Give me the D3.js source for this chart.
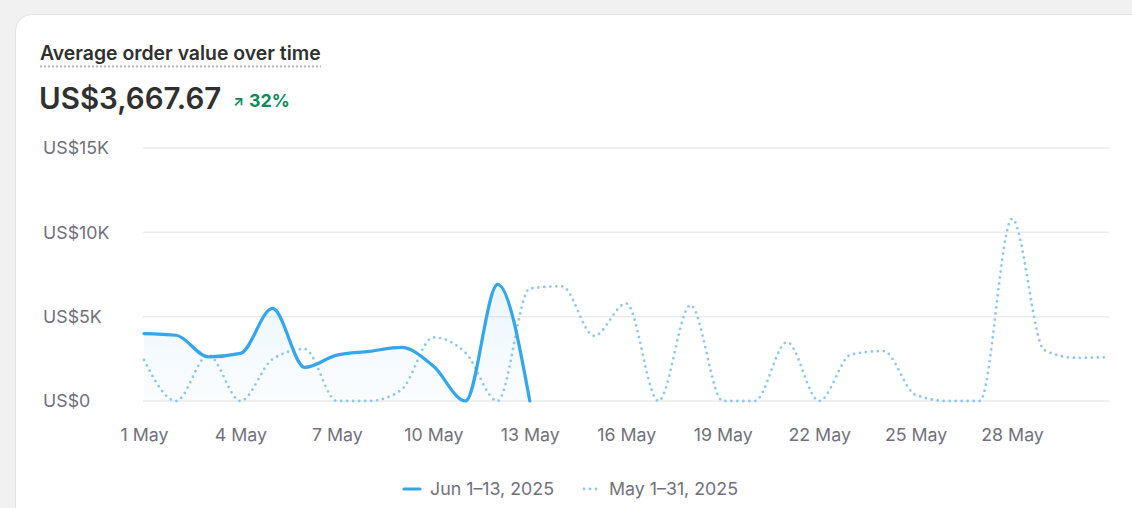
<!DOCTYPE html>
<html>
<head>
<meta charset="utf-8">
<script src="https://cdn.jsdelivr.net/npm/d3@7"></script>
<style>
  html, body { margin: 0; padding: 0; background: #f1f1f1; }
  body { width: 1132px; height: 508px; overflow: hidden; font-family: Inter, "Noto Sans", sans-serif; }
  #chart svg { display: block; }
</style>
</head>
<body>
<div id="chart"></div>
<script>
// Series values (US$ per day)
const juneValues = [4000, 3900, 2620, 2820, 5490, 1990, 2720, 2940, 3180, 2070, 0, 6920, 0];
const mayValues = [
  2430, 0, 2720, 0, 2480, 3080, 0, 0, 650, 3770,
  2860, 0, 6670, 6800, 3860, 5780, 0, 5680, 0, 0,
  3490, 0, 2760, 2960, 360, 0, 0, 10800, 3020, 2560,
  2600
];
const xTickDays = [1, 4, 7, 10, 13, 16, 19, 22, 25, 28];
const yTickValues = [0, 5000, 10000, 15000];
const yTickLabels = ['US$0', 'US$5K', 'US$10K', 'US$15K'];
const legendLabels = ['Jun 1\u201313, 2025', 'May 1\u201331, 2025'];

const W = 1132, H = 508;
const solidColor = '#35a6ea';
const dotColor = '#8ec8ec';
const textGrey = '#71717c';

const svg = d3.select('#chart').append('svg')
  .attr('width', W)
  .attr('height', H);

// Card
svg.append('rect')
  .attr('x', 15.5).attr('y', 14.5)
  .attr('width', 1140).attr('height', 520)
  .attr('rx', 16)
  .attr('fill', '#fff')
  .attr('stroke', '#e3e3e3');

// Header
svg.append('text')
  .attr('x', 40).attr('y', 60)
  .attr('font-size', 19.4).attr('font-weight', 600)
  .attr('fill', '#303030')
  .text('Average order value over time');

svg.append('line')
  .attr('x1', 40).attr('x2', 321)
  .attr('y1', 66.5).attr('y2', 66.5)
  .attr('stroke', '#b5b5b5')
  .attr('stroke-width', 2)
  .attr('stroke-dasharray', '2,2');

svg.append('text')
  .attr('x', 39).attr('y', 109)
  .attr('font-size', 29.5).attr('font-weight', 600)
  .attr('fill', '#303030')
  .text('US$3,667.67');

svg.append('text')
  .attr('x', 233).attr('y', 106)
  .attr('font-size', 14).attr('font-weight', 700)
  .attr('fill', '#0b8a5a')
  .text('\u2197');

svg.append('text')
  .attr('x', 249).attr('y', 106.5)
  .attr('font-size', 17.8).attr('font-weight', 700)
  .attr('fill', '#0b8a5a')
  .text('32%');

// Scales
const x = d3.scaleLinear().domain([1, 31]).range([144, 1108.5]);
const y = d3.scaleLinear().domain([0, 15000]).range([401, 148]);

// Grid
svg.append('g')
  .selectAll('line')
  .data(yTickValues)
  .join('line')
  .attr('x1', 143).attr('x2', 1109)
  .attr('y1', d => y(d)).attr('y2', d => y(d))
  .attr('stroke', '#ebebeb')
  .attr('stroke-width', 1.5);

// Y axis labels
const yAxis = d3.axisLeft(y)
  .tickValues(yTickValues)
  .tickFormat((d, i) => yTickLabels[i])
  .tickSize(0);

svg.append('g')
  .attr('transform', 'translate(43,0)')
  .call(yAxis)
  .call(g => g.select('.domain').remove())
  .call(g => g.selectAll('text')
    .attr('text-anchor', 'start')
    .attr('x', 0)
    .attr('dy', '0.32em')
    .attr('font-family', 'Inter, sans-serif')
    .attr('font-size', 17.8)
    .attr('fill', textGrey));

// X axis labels
const xAxis = d3.axisBottom(x)
  .tickValues(xTickDays)
  .tickFormat(d => `${d} May`)
  .tickSize(0);

svg.append('g')
  .attr('transform', 'translate(0,425)')
  .call(xAxis)
  .call(g => g.select('.domain').remove())
  .call(g => g.selectAll('text')
    .attr('font-family', 'Inter, sans-serif')
    .attr('font-size', 17.8)
    .attr('fill', textGrey));

// Gradient for the area under the current period
const defs = svg.append('defs');
const grad = defs.append('linearGradient')
  .attr('id', 'areaFill')
  .attr('x1', 0).attr('y1', 0).attr('x2', 0).attr('y2', 1);
grad.append('stop').attr('offset', '0%').attr('stop-color', solidColor).attr('stop-opacity', 0.1);
grad.append('stop').attr('offset', '100%').attr('stop-color', solidColor).attr('stop-opacity', 0.02);

const line = d3.line()
  .x((d, i) => x(i + 1))
  .y(d => y(d))
  .curve(d3.curveMonotoneX);

const area = d3.area()
  .x((d, i) => x(i + 1))
  .y0(y(0))
  .y1(d => y(d))
  .curve(d3.curveMonotoneX);

svg.append('path')
  .datum(juneValues)
  .attr('d', area)
  .attr('fill', 'url(#areaFill)');

// Previous period (dotted)
svg.append('path')
  .datum(mayValues)
  .attr('d', line)
  .attr('fill', 'none')
  .attr('stroke', dotColor)
  .attr('stroke-width', 2.8)
  .attr('stroke-linecap', 'round')
  .attr('stroke-dasharray', '0,6');

// Current period (solid)
svg.append('path')
  .datum(juneValues)
  .attr('d', line)
  .attr('fill', 'none')
  .attr('stroke', solidColor)
  .attr('stroke-width', 3.2)
  .attr('stroke-linecap', 'round');

// Legend
const legend = svg.append('g').attr('transform', 'translate(0,489)');

legend.append('line')
  .attr('x1', 404).attr('x2', 420)
  .attr('stroke', solidColor)
  .attr('stroke-width', 3.2)
  .attr('stroke-linecap', 'round');

legend.append('text')
  .attr('x', 430).attr('dy', '0.35em')
  .attr('font-size', 17.8)
  .attr('fill', textGrey)
  .text(legendLabels[0]);

legend.append('line')
  .attr('x1', 584).attr('x2', 597)
  .attr('stroke', dotColor)
  .attr('stroke-width', 2.8)
  .attr('stroke-linecap', 'round')
  .attr('stroke-dasharray', '0,6');

legend.append('text')
  .attr('x', 609).attr('dy', '0.35em')
  .attr('font-size', 17.8)
  .attr('fill', textGrey)
  .text(legendLabels[1]);
</script>
</body>
</html>
